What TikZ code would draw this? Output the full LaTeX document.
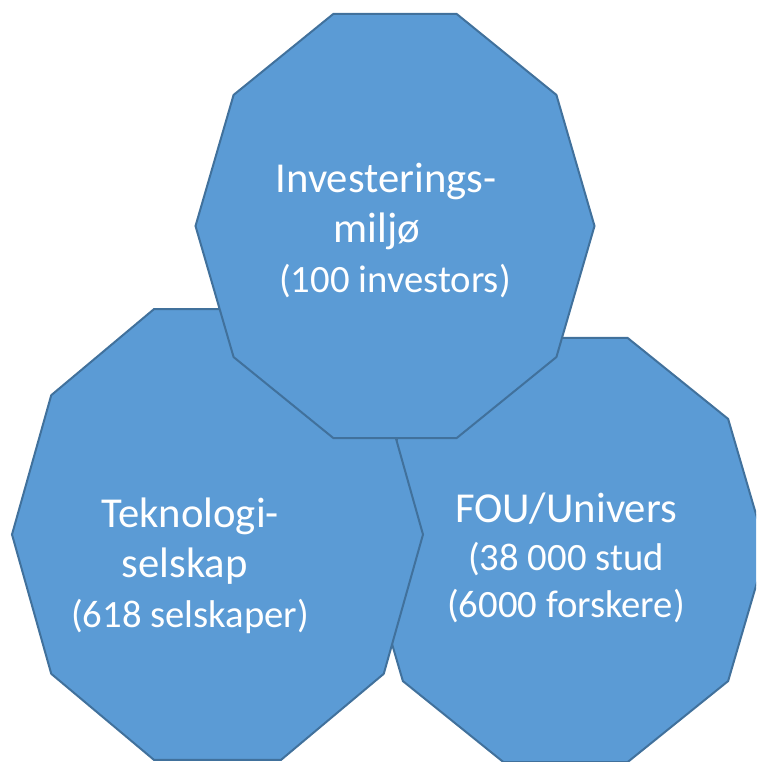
\documentclass[tikz,border=0pt]{standalone}
\usepackage{fontspec}
\setmainfont{Carlito}
\definecolor{decafill}{HTML}{5B9BD5}
\definecolor{decaline}{HTML}{41719C}
\tikzset{
  deca/.style={fill=decafill, draw=decaline, line width=1.5pt, line join=miter},
  lbl/.style={text=white, align=center, font=\fontsize{32}{37.5}\selectfont, inner sep=0pt},
}
\newcommand\mydecagon[4]{%
  \draw[deca] ({#1+#3},{#2})
    \foreach \a in {36,72,...,324} { -- ({#1+#3*cos(\a)},{#2-#4*sin(\a)}) } -- cycle;}
\newcommand\smtxt{\fontsize{29}{37.5}\selectfont}
\newcommand\smtxtb{\fontsize{29}{35}\selectfont}
\begin{document}
\begin{tikzpicture}[x=0.75pt,y=-0.75pt]
\useasboundingbox (0,0) rectangle (756,762);
\clip (0,0) rectangle (756,762);
% right (bottom layer)
\mydecagon{565.5}{550}{201}{223}
% left
\mydecagon{217.5}{534.5}{205.5}{237}
% top
\mydecagon{395}{226}{199.5}{223}
\node[lbl] (inv) at (386,231) {Investerings-\\miljø\hbox to 13.5pt{}\\{\smtxt\hbox to 13.5pt{}(100 investors)}};
\node[lbl] (tek) at (190,566) {Teknologi-\\selskap\hbox to 8pt{}\\{\smtxt(618 selskaper)}};
\node[lbl, font=\fontsize{32}{35.5}\selectfont] (fou) at (566,558) {FOU/Univers\\{\smtxtb(38 000 stud}\\{\smtxtb(6000 forskere)}};
\end{tikzpicture}
\end{document}
